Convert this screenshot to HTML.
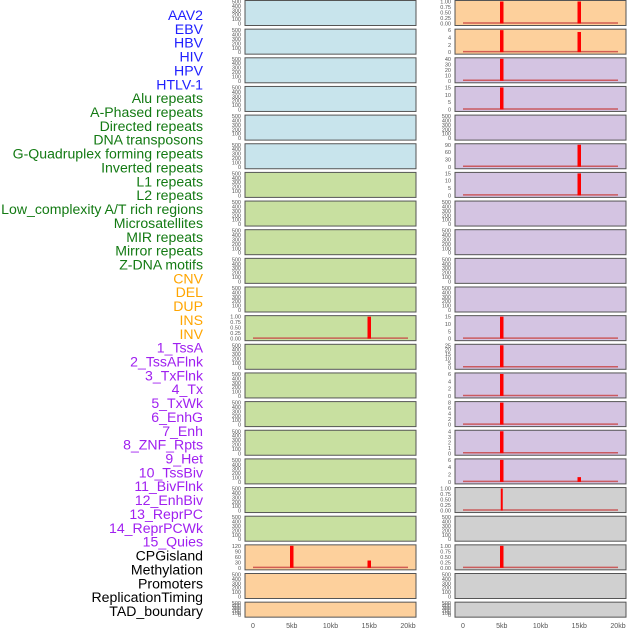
<!DOCTYPE html>
<html><head><meta charset="utf-8"><style>
html,body{margin:0;padding:0;background:#fff;width:630px;height:630px;overflow:hidden}
svg{display:block;font-family:"Liberation Sans",sans-serif}
</style></head><body>
<svg id="chart" width="630" height="630"></svg>
<script>
const labels=["AAV2","EBV","HBV","HIV","HPV","HTLV-1","Alu repeats","A-Phased repeats","Directed repeats","DNA transposons","G-Quadruplex forming repeats","Inverted repeats","L1 repeats","L2 repeats","Low_complexity A/T rich regions","Microsatellites","MIR repeats","Mirror repeats","Z-DNA motifs","CNV","DEL","DUP","INS","INV","1_TssA","2_TssAFlnk","3_TxFlnk","4_Tx","5_TxWk","6_EnhG","7_Enh","8_ZNF_Rpts","9_Het","10_TssBiv","11_BivFlnk","12_EnhBiv","13_ReprPC","14_ReprPCWk","15_Quies","CPGisland","Methylation","Promoters","ReplicationTiming","TAD_boundary"];
const labelGroups=[6,13,5,15,5];
const groupColors=["#2020ff","#137a13","#ffa500","#a020f0","#000000"];
const xTicks=[0,5,10,15,20];
const xTickLabels=["0","5kb","10kb","15kb","20kb"];
const leftColors=["b","b","b","b","b","b","g","g","g","g","g","g","g","g","g","g","g","g","g","o","o","o"];
const rightColors=["o","o","p","p","p","p","p","p","p","p","p","p","p","p","p","p","p","r","r","r","r","r"];
const leftYMax=[500,500,500,500,500,500,500,500,500,500,500,1,500,500,500,500,500,500,500,120,500,500];
const rightYMax=[1,6,40,15,500,90,15,500,500,500,500,15,25,6,8,4,6,1,500,1,500,500];
const leftBars=[[11,15,1],[19,5,120],[19,15,40]];
const rightBars=[[0,5,1],[0,15,1],[1,5,7],[1,15,5.5],[2,5,48],[3,5,18],[5,15,100],[6,15,18],[11,5,17],[12,5,28],[13,5,7.5],[14,5,9],[15,5,4.6],[16,5,7.5],[16,15,1.3],[17,5,1.1],[19,5,1.1]];
const tickSets={1:[0,0.25,0.5,0.75,1],6:[0,2,4,6],40:[0,10,20,30,40],15:[0,5,10,15],500:[0,100,200,300,400,500],90:[0,30,60,90],25:[0,5,10,15,20,25],8:[0,2,4,6,8],4:[0,1,2,3,4],120:[0,30,60,90,120]};

const fills={b:"#c8e4ec",g:"#c8e0a0",o:"#fdd09c",p:"#d4c4e2",r:"#d0d0d0"};
const NS="http://www.w3.org/2000/svg";
const svg=document.getElementById("chart");
function mk(t,a,p){const e=document.createElementNS(NS,t);for(const k in a)e.setAttribute(k,a[k]);(p||svg).appendChild(e);return e;}

let li=0;
labelGroups.forEach((n,g)=>{for(let j=0;j<n;j++){
 const t=mk("text",{x:203,y:20+li*13.86,"text-anchor":"end","font-size":"14.1",fill:groupColors[g]});
 t.textContent=labels[li];
 
 
 li++;}});

const cols=[{x0:245,x1:416,colors:leftColors,ymax:leftYMax,bars:leftBars,name:"left"},
            {x0:455,x1:626,colors:rightColors,ymax:rightYMax,bars:rightBars,name:"right"}];
function fmt(v,ym){return ym===1?v.toFixed(2):String(v);}
cols.forEach(c=>{
 const xs=k=>c.x0+8+k*(c.x1-c.x0-16)/20;
 for(let r=0;r<22;r++){
  const top=r*28.65+0.5, h=r===21?15:25;
  const g=mk("g",{});
  
  
  mk("rect",{x:c.x0,y:top,width:c.x1-c.x0,height:h,fill:fills[c.colors[r]],stroke:"#555","stroke-width":1},g);
  const ym=c.ymax[r], pt=top+1, pb=top+h-2;
  const ys=v=>pb-(v/ym)*(pb-pt);
  const ticks=tickSets[ym]||[0,ym];
  ticks.forEach(v=>{const t=mk("text",{x:c.x0-4,y:ys(v)+2,"text-anchor":"end","font-size":"5.5",fill:"#555"},g);t.textContent=fmt(v,ym);});
  const rowBars=c.bars.filter(b=>b[0]===r);
  if(rowBars.length){
   mk("line",{x1:xs(0),x2:xs(20),y1:pb-0.5,y2:pb-0.5,stroke:"#c84040","stroke-width":1.5,opacity:0.8},g);
   rowBars.forEach(b=>{
    const v=Math.min(b[2],ym);
    const w=(ym===1&&c.name==="right"&&r===17)?2:3.5;
    const bar=mk("rect",{x:xs(b[1])-w/2,y:ys(v),width:w,height:pb-ys(v),fill:"#ff0000"},g);
    
    
   });
  }
 }
 xTicks.forEach((k,i)=>{const t=mk("text",{x:xs(k),y:628,"text-anchor":"middle","font-size":"7",fill:"#555"});
  t.textContent=xTickLabels[i];
  
  });
});
</script>
</body></html>
